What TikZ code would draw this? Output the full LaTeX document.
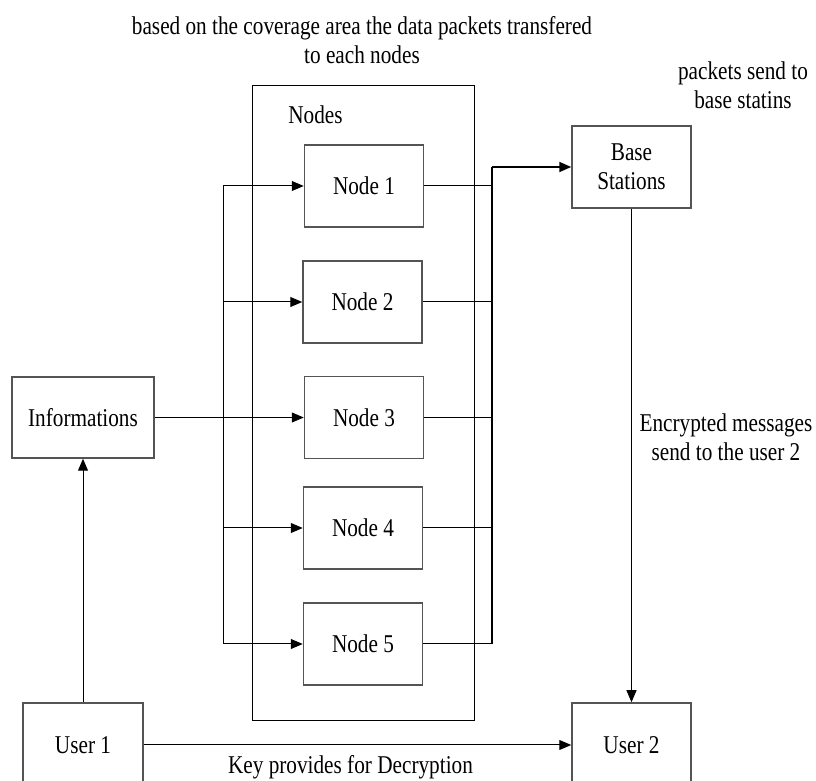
\documentclass[tikz,border=0pt]{standalone}
\usepackage{fontspec}
\setmainfont{Liberation Serif}[FakeStretch=0.83]
\usetikzlibrary{arrows.meta}
\definecolor{boxgray}{rgb}{0.33,0.33,0.33}
\begin{document}
\begin{tikzpicture}[x=0.5pt,y=-0.5pt,
  txt/.style={font=\fontsize{12.8}{14.5}\selectfont},
  box/.style={txt, draw=boxgray, line width=0.75pt, minimum width=59.5pt, minimum height=41pt, inner sep=0pt, align=center},
  lbl/.style={txt, align=center, inner sep=0pt},
  conn/.style={line width=0.5pt, draw=black},
  arr/.style={conn, -{Triangle[length=6pt,width=5pt]}},
]
\useasboundingbox (0,0) rectangle (816,781);

% frame of the node group
\node[draw=black, line width=0.5pt, minimum width=111pt, minimum height=317.5pt, inner sep=0pt] (outer) at (363,403.5) {};
\node[lbl, anchor=west] (nodeslbl) at (288,115) {Nodes};

% boxes
\node[box, minimum width=71pt, minimum height=40.5pt] (info) at (83,417.5) {Informations};
\node[box] (n1) at (364,186) {Node 1};
\node[box] (n2) at (362.5,302) {Node 2};
\node[box] (n3) at (364,417.5) {Node 3};
\node[box] (n4) at (363,528) {Node 4};
\node[box] (n5) at (363,644) {Node 5};
\node[box] (base) at (631.5,167) {Base\\Stations};
\node[box, minimum width=60pt, minimum height=42pt] (u1) at (83,745) {User 1};
\node[box, minimum height=42pt] (u2) at (631.5,745) {User 2};

% texts
\node[lbl] (title) at (362,40) {based on the coverage area the data packets transfered\\to each nodes};
\node[lbl] (pk) at (743,85) {packets send to\\base statins};
\node[lbl] (enc) at (726,437) {Encrypted messages\\send to the user 2};
\node[lbl] (key) at (350.5,767) {Key provides for Decryption};

% connectors
\coordinate (bl) at (223,417.5);
\coordinate (br) at (492,167);
\draw[conn, line width=0.8pt] (info.east) -- (bl);
\foreach \n in {n1,n2,n3,n4,n5} {
  \draw[arr] (bl) |- (\n.west);
  \draw[conn] (\n.east) -- (\n.east -| br);
}
\draw[conn, line width=1pt] (n5.east -| br) -- (br);
\draw[arr, line width=0.9pt] (br) -- (base.west);
\draw[arr] (base.south) -- (u2.north);
\draw[arr] (u1.north) -- (info.south);
\draw[arr] (u1.east) -- (u2.west);
\end{tikzpicture}
\end{document}
